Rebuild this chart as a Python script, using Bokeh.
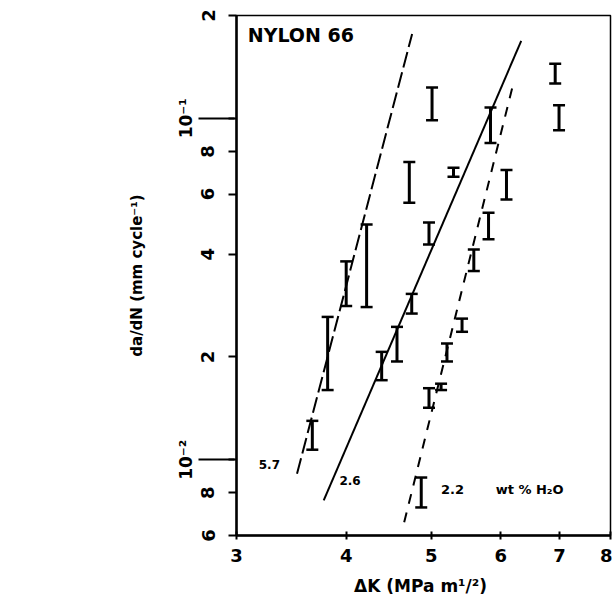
from bokeh.plotting import figure
from bokeh.models import (Range1d, FixedTicker, PrintfTickFormatter, Label,
                          ColumnDataSource, LogAxis)
from bokeh.embed import file_html
from bokeh.resources import INLINE

# ---- data ----
# 5.7 wt% H2O
k57 = [3.66, 3.81, 4.00, 4.22, 4.72, 5.01]
lo57 = [0.0107, 0.0160, 0.0282, 0.0280, 0.0566, 0.0987]
hi57 = [0.0130, 0.0262, 0.0381, 0.0489, 0.0745, 0.1230]
# 2.6 wt% H2O
k26 = [4.39, 4.57, 4.75, 4.97, 5.30, 5.84, 6.92]
lo26 = [0.0171, 0.0194, 0.0268, 0.0427, 0.0674, 0.0846, 0.1264]
hi26 = [0.0207, 0.0245, 0.0306, 0.0495, 0.0716, 0.1076, 0.1445]
# 2.2 wt% H2O
k22 = [4.87, 4.97, 5.13, 5.21, 5.42, 5.59, 5.81, 6.09, 6.99]
lo22 = [0.00725, 0.0142, 0.0160, 0.0194, 0.0237, 0.0357, 0.0442, 0.0578, 0.0923]
hi22 = [0.00887, 0.0162, 0.0167, 0.0219, 0.0259, 0.0413, 0.0529, 0.0706, 0.1091]

# fitted lines (end points)
fit57_k = [3.516, 4.755]
fit57_v = [0.0091, 0.1766]
fit26_k = [3.771, 6.33]
fit26_v = [0.0076, 0.1686]
fit22_k = [4.657, 6.20]
fit22_v = [0.00656, 0.1264]

x_ticks = [3, 4, 5, 6, 7, 8]
y_major = [0.01, 0.1]
y_major_labels = ["10\u207b\u00b2", "10\u207b\u00b9"]
y_minor = [0.006, 0.008, 0.02, 0.04, 0.06, 0.08, 0.2]
y_minor_labels = ["6", "8", "2", "4", "6", "8", "2"]

X0, X1 = 3, 8
Y0, Y1 = 0.006, 0.2
FONT = "DejaVu Sans"

p = figure(width=612, height=598, x_axis_type="log", y_axis_type="log",
           x_range=Range1d(X0, X1), y_range=Range1d(Y0, Y1),
           output_backend="svg", toolbar_location=None,
           min_border_left=236, min_border_right=2, min_border_top=15,
           min_border_bottom=61)
p.xgrid.visible = False
p.ygrid.visible = False
p.outline_line_color = "black"
p.outline_line_width = 1.5
p.background_fill_color = "white"

# x axis
xa = p.xaxis[0]
xa.ticker = FixedTicker(ticks=x_ticks, minor_ticks=[])
xa.formatter = PrintfTickFormatter(format="%d")
xa.axis_line_width = 2.5
xa.major_tick_in = 4
xa.major_tick_out = 4
xa.major_tick_line_width = 2
xa.major_label_standoff = 9
xa.major_label_text_font = FONT
xa.major_label_text_font_size = "18px"
xa.major_label_text_font_style = "bold"
xa.major_label_text_color = "black"
xa.axis_label = "\u0394K (MPa  m\u00b9/\u00b2)"
xa.axis_label_text_font = FONT
xa.axis_label_text_font_size = "17px"
xa.axis_label_text_font_style = "bold"
xa.axis_label_text_color = "black"
xa.axis_label_standoff = 11

# inner y axis: all ticks, digit labels
all_ticks = sorted(y_minor + y_major)
inner_labels = dict(zip(y_minor, y_minor_labels))
inner_labels.update({v: "" for v in y_major})
ya = p.yaxis[0]
ya.ticker = FixedTicker(ticks=all_ticks, minor_ticks=[])
ya.major_label_overrides = inner_labels
ya.major_label_orientation = "vertical"
ya.axis_line_width = 2.5
ya.major_tick_in = 0
ya.major_tick_out = 8
ya.major_tick_line_width = 2
ya.major_label_standoff = 14
ya.major_label_text_font = FONT
ya.major_label_text_font_size = "18px"
ya.major_label_text_font_style = "bold"
ya.major_label_text_color = "black"

# outer y axis: decade labels with long ticks reaching the frame
ya2 = LogAxis(ticker=FixedTicker(ticks=y_major, minor_ticks=[]),
              major_label_overrides=dict(zip(y_major, y_major_labels)),
              major_label_orientation="vertical",
              axis_line_color=None,
              major_tick_in=36, major_tick_out=0, major_tick_line_width=2,
              major_label_standoff=2,
              major_label_text_font=FONT, major_label_text_font_size="17px",
              major_label_text_font_style="bold",
              major_label_text_color="black",
              axis_label="da/dN (mm cycle\u207b\u00b9)",
              axis_label_text_font=FONT, axis_label_text_font_size="15px",
              axis_label_text_font_style="bold",
              axis_label_text_color="black",
              axis_label_standoff=28)
p.add_layout(ya2, "left")

# fitted lines
p.line(fit57_k, fit57_v, line_color="black", line_width=2, line_dash="16 5")
p.line(fit26_k, fit26_v, line_color="black", line_width=2)
p.line(fit22_k, fit22_v, line_color="black", line_width=2, line_dash="10 9")

# error bars
for ks, los, his in [(k57, lo57, hi57), (k26, lo26, hi26), (k22, lo22, hi22)]:
    src = ColumnDataSource(dict(k=ks, lo=los, hi=his))
    p.segment(x0="k", y0="lo", x1="k", y1="hi", source=src,
              line_color="black", line_width=3)
    p.scatter(x="k", y="lo", source=src, marker="dash", size=12,
              line_color="black", line_width=2.5)
    p.scatter(x="k", y="hi", source=src, marker="dash", size=12,
              line_color="black", line_width=2.5)

# texts inside the frame
def lab(x, y, t, size):
    p.add_layout(Label(x=x, y=y, text=t, text_align="left",
                       text_baseline="middle", text_font=FONT,
                       text_font_size=size, text_font_style="bold",
                       text_color="black"))

lab(3.09, 0.1754, "NYLON 66", "19px")
lab(3.18, 0.0097, "5.7", "12px")
lab(3.93, 0.0087, "2.6", "12px")
lab(5.13, 0.0082, "2.2", "13px")
lab(5.92, 0.0082, "wt % H\u2082O", "13px")

open("out.html", "w").write(file_html(p, INLINE))
